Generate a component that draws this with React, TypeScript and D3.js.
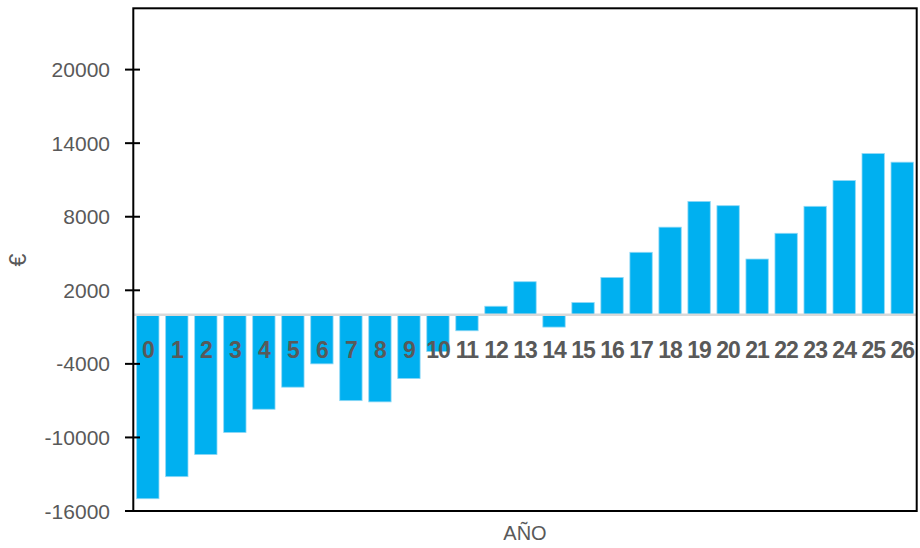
import React from "react";
import * as d3 from "d3";

const categories = Array.from({ length: 27 }, (_, i) => String(i));
const values = [
  -15000, -13200, -11400, -9600, -7700, -5900, -4000, -7000, -7100, -5200,
  -3000, -1300, 700, 2700, -1000, 1000, 3050, 5100, 7150, 9250, 8900, 4550,
  6650, 8850, 10950, 13150, 12450,
];
const yTicks = [-16000, -10000, -4000, 2000, 8000, 14000, 20000];
const yDomain = [-16000, 25000];
const yTitle = "€";
const xTitle = "AÑO";

const W = 920;
const H = 548;
const left = 133.3;
const right = 916.7;
const top = 8.3;
const bottom = 511;

export default function App() {
  const x = d3
    .scaleBand<string>()
    .domain(categories)
    .range([left, right])
    .paddingInner(0.23)
    .paddingOuter(0.115);
  const y = d3.scaleLinear().domain(yDomain).range([bottom, top]);
  const y0 = y(0);
  const font = "'Liberation Sans', Arial, sans-serif";

  return (
    <svg
      width={W}
      height={H}
      style={{ position: "absolute", left: 0, top: 0, background: "#fff" }}
    >
      {values.map((v, i) => (
        <rect
          key={i}
          x={x(categories[i])}
          y={Math.min(y(v), y0)}
          width={x.bandwidth()}
          height={Math.abs(y(v) - y0)}
          fill="#00B0F0"
          stroke="#8fd8f5"
          strokeWidth={0.8}
        />
      ))}
      <line x1={left} x2={right} y1={y0} y2={y0} stroke="#d9d9d9" strokeWidth={2.5} />
      {categories.map((c) => (
        <text
          key={c}
          x={(x(c) as number) + x.bandwidth() / 2}
          y={357.5}
          textAnchor="middle"
          fontFamily={font}
          fontWeight="bold"
          fontSize={23}
          fill="#595959"
          letterSpacing={-1}
        >
          {c}
        </text>
      ))}
      <rect
        x={left}
        y={top}
        width={right - left}
        height={bottom - top}
        fill="none"
        stroke="#000"
        strokeWidth={2}
      />
      {yTicks.map((t) => (
        <g key={t}>
          <line x1={125} x2={140} y1={y(t)} y2={y(t)} stroke="#000" strokeWidth={2} />
          <text
            x={110}
            y={y(t) + 7.5}
            textAnchor="end"
            fontFamily={font}
            fontSize={21}
            fill="#595959"
          >
            {t}
          </text>
        </g>
      ))}
      <text
        transform={`translate(26, 260) rotate(-90)`}
        textAnchor="middle"
        fontFamily={font}
        fontSize={23}
        fill="#595959"
      >
        {yTitle}
      </text>
      <text
        x={(left + right) / 2}
        y={540}
        textAnchor="middle"
        fontFamily={font}
        fontSize={20}
        fill="#595959"
      >
        {xTitle}
      </text>
    </svg>
  );
}
